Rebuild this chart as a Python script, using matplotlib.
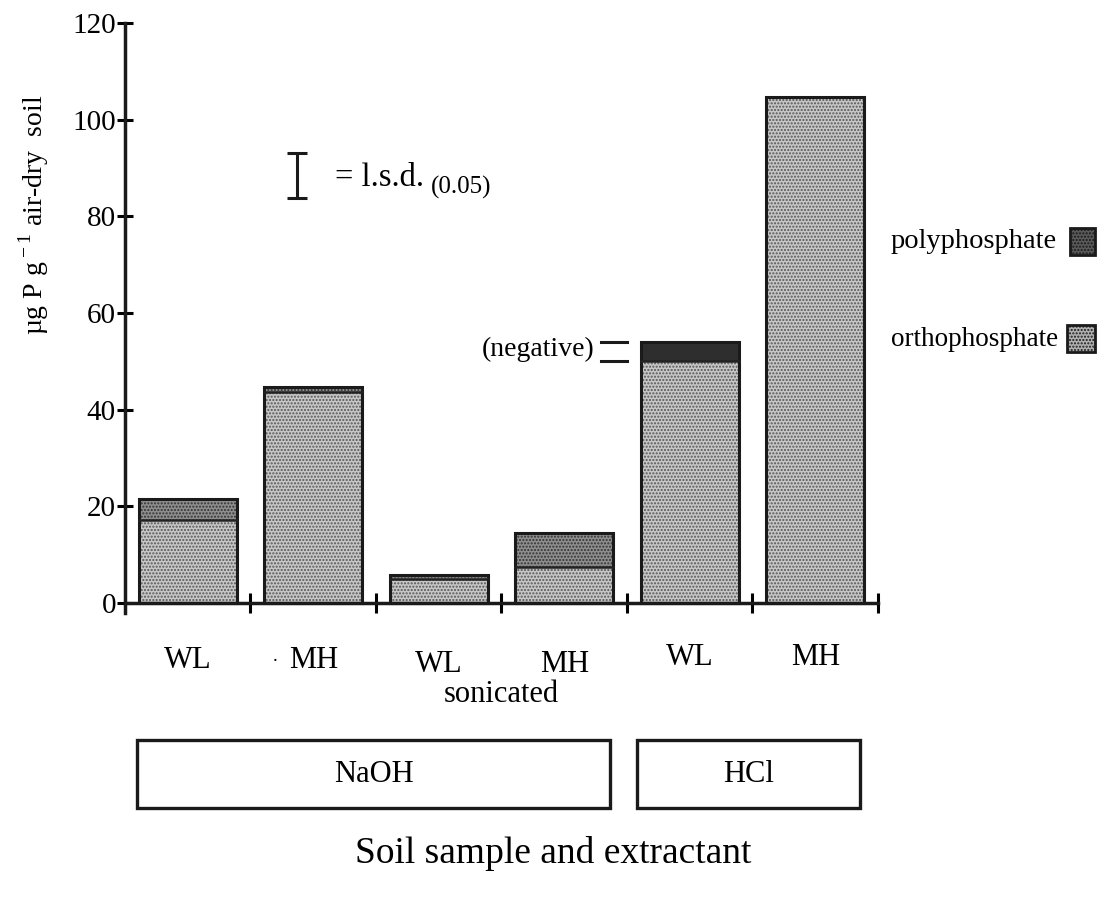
import matplotlib.pyplot as plt
from matplotlib.patches import Rectangle

plt.rcParams['font.family'] = ['Liberation Serif', 'DejaVu Serif']
plt.rcParams['mathtext.fontset'] = 'custom'
plt.rcParams['mathtext.rm'] = 'Liberation Serif'

# data
samples = ['WL', 'MH', 'WL', 'MH', 'WL', 'MH']
ortho = [17.2, 43.6, 4.9, 7.4, 50.1, 104.7]
poly = [4.4, 1.2, 0.9, 7.1, 3.9, 0.0]
negative = [False, False, False, False, True, False]
label_y = [-11.8, -11.8, -12.8, -12.8, -11.3, -11.3]
lsd_low, lsd_high = 83.8, 93.2

ortho_face, ortho_hatch = '#c6c6c6', '#555555'
poly_face, poly_hatch = '#8e8e8e', '#333333'
neg_color = '#2e2e2e'

fig = plt.figure(figsize=(11.07, 9.02), dpi=100)
ax = fig.add_axes([0.1129, 0.3207, 0.6802, 0.6538])

x = [i + 0.5 for i in range(len(samples))]
w = 0.78

# orthophosphate
ax.bar(x, ortho, w, color=ortho_face, hatch='.....', edgecolor=ortho_hatch, linewidth=0)
# polyphosphate stacked on top
for xi, o, p, neg in zip(x, ortho, poly, negative):
    if p <= 0:
        continue
    if neg:
        ax.bar(xi, p, w, bottom=o, color=neg_color, linewidth=0)
    else:
        ax.bar(xi, p, w, bottom=o, color=poly_face, hatch='.....', edgecolor=poly_hatch, linewidth=0)
    ax.plot([xi - w / 2, xi + w / 2], [o, o], color='#222222', lw=1.8)
# outlines
tot = [o + p for o, p in zip(ortho, poly)]
ax.bar(x, tot, w, fill=False, edgecolor='#1a1a1a', linewidth=2.2)

ax.set_xlim(0, 6)
ax.set_ylim(-2, 120)
ax.spines['top'].set_visible(False)
ax.spines['right'].set_visible(False)
ax.spines['bottom'].set_position(('data', 0))
ax.spines['left'].set_bounds(-2, 120)
for s in ('left', 'bottom'):
    ax.spines[s].set_linewidth(2.5)
    ax.spines[s].set_color('#1a1a1a')

ax.set_yticks(range(0, 121, 20))
ax.tick_params(axis='y', direction='inout', length=11, width=2.2, labelsize=21, pad=1)
ax.set_xticks(range(1, 7))
ax.set_xticklabels([])
ax.tick_params(axis='x', direction='inout', length=14, width=2.2)

for xi, lab, ly in zip(x, samples, label_y):
    ax.text(xi, ly, lab, ha='center', va='center', fontsize=22, clip_on=False)
ax.text(1.195, -11.0, '.', ha='center', va='center', fontsize=14, clip_on=False)
ax.text(3.0, -19.0, 'sonicated', ha='center', va='center', fontsize=22, clip_on=False)

# extractant boxes
ax.add_patch(Rectangle((0.096, -42.4), 3.77, 14.1, fill=False, lw=2.4,
                       edgecolor='#1a1a1a', clip_on=False))
ax.text(1.98, -35.4, 'NaOH', ha='center', va='center', fontsize=22, clip_on=False)
ax.add_patch(Rectangle((4.08, -42.4), 1.78, 14.1, fill=False, lw=2.4,
                       edgecolor='#1a1a1a', clip_on=False))
ax.text(4.97, -35.4, 'HCl', ha='center', va='center', fontsize=22, clip_on=False)

# l.s.d. bar
ax.errorbar([1.37], [(lsd_low + lsd_high) / 2], yerr=[(lsd_high - lsd_low) / 2],
            color='#1a1a1a', capsize=7, elinewidth=2.2, capthick=2.2)
ax.text(1.67, 87.9, '= l.s.d.', ha='left', va='center', fontsize=23.5)
ax.text(2.44, 85.9, '(0.05)', ha='left', va='center', fontsize=18)

# negative marker
ax.text(3.745, 52.4, '(negative)', ha='right', va='center', fontsize=20)
ax.plot([3.79, 4.0], [tot[4], tot[4]], color='#1a1a1a', lw=2.2, clip_on=False)
ax.plot([3.79, 4.0], [ortho[4], ortho[4]], color='#1a1a1a', lw=2.2, clip_on=False)

# legend
ax.text(6.1, 74.8, 'polyphosphate', ha='left', va='center', fontsize=20.5, clip_on=False)
ax.add_patch(Rectangle((7.53, 72.0), 0.2, 5.6, facecolor='#5a5a5a', hatch='.....',
                       edgecolor='#1a1a1a', lw=2, clip_on=False))
ax.text(6.1, 54.6, 'orthophosphate', ha='left', va='center', fontsize=19.5, clip_on=False)
ax.add_patch(Rectangle((7.51, 51.9), 0.22, 5.6, facecolor='#b0b0b0', hatch='.....',
                       edgecolor='#1a1a1a', lw=2, clip_on=False))

fig.text(0.03, 0.762, 'µg P g$^{\\rm -1}$ air-dry  soil', rotation=90,
         ha='center', va='center', fontsize=20)
fig.text(0.4995, 0.054, 'Soil sample and extractant', ha='center', va='center', fontsize=27)

fig.savefig('out.png', dpi=100)
